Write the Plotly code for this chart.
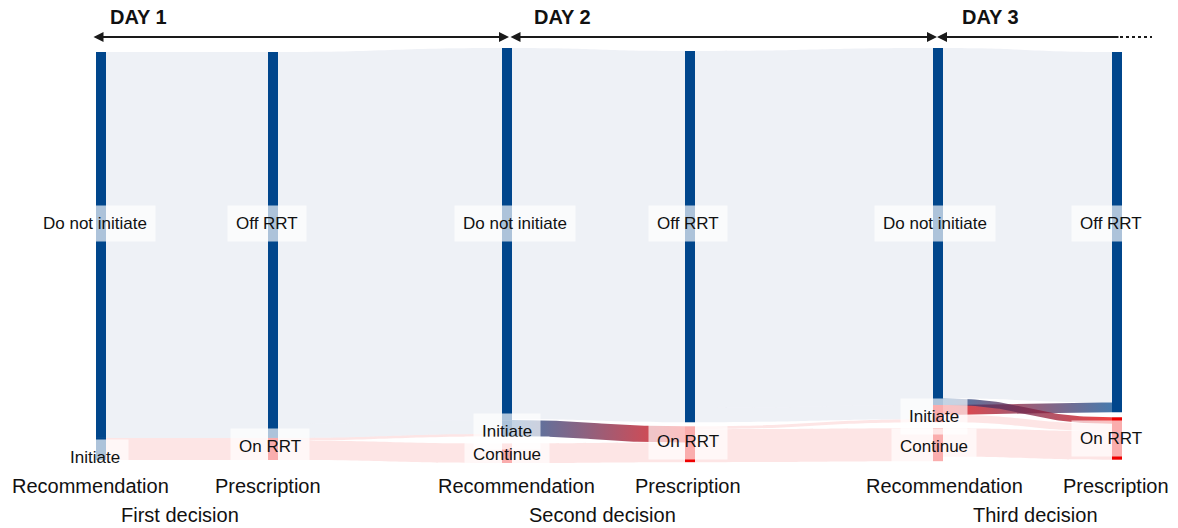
import plotly.graph_objects as go

FIG_W, FIG_H = 1178, 528

# ---- data: share of patients (%) in each state and between states ----
node_names = [
    "Do not initiate", "Initiate",                 # day 1 recommendation
    "Off RRT", "On RRT",                           # day 1 prescription
    "Do not initiate", "Initiate", "Continue",     # day 2 recommendation
    "Off RRT", "On RRT",                           # day 2 prescription
    "Do not initiate", "Initiate", "Continue",     # day 3 recommendation
    "Off RRT", "On RRT",                           # day 3 prescription
]
node_column = [0, 0, 1, 1, 2, 2, 2, 3, 3, 4, 4, 4, 5, 5]
node_group = ["off", "off", "off", "on", "off", "off", "on",
              "off", "on", "off", "on", "on", "off", "on"]

link_source = [0, 1, 2, 2, 3, 3, 4, 5, 6, 7, 7, 8, 8, 9, 9, 10, 10, 11]
link_target = [2, 3, 4, 5, 5, 6, 7, 8, 8, 9, 10, 10, 11, 12, 13, 12, 13, 13]
link_value = [94.6, 5.4, 91.2, 3.4, 0.6, 4.8, 91.0, 4.0, 4.8,
              87.5, 3.5, 0.7, 8.1, 85.9, 1.6, 2.4, 1.8, 7.0]
link_kind = ["off", "on", "off", "off", "on", "on", "off", "start", "on",
             "off", "off", "on", "on", "off", "start", "stop", "on", "on"]

stage_labels = ["Recommendation", "Prescription", "Recommendation",
                "Prescription", "Recommendation", "Prescription"]
decision_labels = ["First decision", "Second decision", "Third decision"]
day_labels = ["DAY 1", "DAY 2", "DAY 3"]

# ---- layout constants (pixels) ----
DOMAIN_TOP, DOMAIN_BOTTOM = 48, 463
DOM_H = DOMAIN_BOTTOM - DOMAIN_TOP
NODE_PAD = 3.5
NODE_THICK = 10
column_x = [101, 273, 507, 690, 938, 1117]
column_top = [52, 52, 48, 51, 48, 52]
gap_before = [0, 0, 0, 0, 0, 0, 7, 0, 4, 0, 0, 6, 0, 5]
label_xy = [(95, 223), (95, 457), (267, 223), (270, 446), (515, 223), (507, 431),
            (507, 454), (688, 223), (688, 441), (935, 223), (934, 416), (934, 446),
            (1111, 223), (1111, 438)]
stage_x = [91, 268, 516, 688, 944, 1116]
decision_x = [180, 602, 1035]
day_text_x = [108, 532, 960]
day_span = [(92, 509), (509, 937), (937, 1120)]
ARROW_Y = 37

BLUE = "rgb(0,70,140)"
RED = "rgb(238,0,0)"
link_fill = {"off": "rgba(0,40,120,0.065)", "on": "rgba(238,0,0,0.10)",
             "start": "rgba(0,0,0,0)", "stop": "rgba(0,0,0,0)"}
grad_blue = "rgba(0,70,140,0.72)"
grad_red = "rgba(238,0,0,0.75)"
FONT = "Arial, Liberation Sans, sans-serif"

# ---- node sizes and positions (same rules the sankey layout uses) ----
n_nodes = len(node_names)
n_cols = max(node_column) + 1
inflow = [0.0] * n_nodes
outflow = [0.0] * n_nodes
for s, t, v in zip(link_source, link_target, link_value):
    outflow[s] += v
    inflow[t] += v
node_value = [max(a, b) for a, b in zip(inflow, outflow)]

cols = [[i for i in range(n_nodes) if node_column[i] == c] for c in range(n_cols)]
ky = min((DOM_H - (len(c) - 1) * NODE_PAD) / sum(node_value[i] for i in c) for c in cols)

y0 = [0.0] * n_nodes
y1 = [0.0] * n_nodes
for c, members in enumerate(cols):
    y = column_top[c]
    for i in members:
        y += gap_before[i]
        y0[i] = y
        y1[i] = y + node_value[i] * ky
        y = y1[i]

node_x = [column_x[node_column[i]] / FIG_W for i in range(n_nodes)]
node_y = [((y0[i] + y1[i]) / 2 - DOMAIN_TOP) / DOM_H for i in range(n_nodes)]
node_color = [BLUE if g == "off" else RED for g in node_group]

fig = go.Figure()

fig.add_trace(go.Sankey(
    arrangement="fixed",
    domain=dict(x=[0, 1], y=[1 - DOMAIN_BOTTOM / FIG_H, 1 - DOMAIN_TOP / FIG_H]),
    node=dict(
        label=["" for _ in node_names],
        customdata=node_names,
        hovertemplate="%{customdata}<br>%{value:.1f}%<extra></extra>",
        x=node_x, y=node_y,
        pad=NODE_PAD, thickness=NODE_THICK,
        color=node_color, line=dict(width=0),
    ),
    link=dict(
        source=link_source, target=link_target, value=link_value,
        color=[link_fill[k] for k in link_kind],
        hovertemplate="%{value:.1f}%<extra></extra>",
    ),
))

# ---- transition links drawn as gradient bands along the sankey link paths ----
src_links = {i: [] for i in range(n_nodes)}
tgt_links = {i: [] for i in range(n_nodes)}
for k, (s, t) in enumerate(zip(link_source, link_target)):
    src_links[s].append(k)
    tgt_links[t].append(k)
link_w = [v * ky for v in link_value]
link_y0 = [0.0] * len(link_value)
link_y1 = [0.0] * len(link_value)
for i in range(n_nodes):
    yy = y0[i]
    for k in sorted(src_links[i], key=lambda k: y0[link_target[k]]):
        link_y0[k] = yy + link_w[k] / 2
        yy += link_w[k]
    yy = y0[i]
    for k in sorted(tgt_links[i], key=lambda k: y0[link_source[k]]):
        link_y1[k] = yy + link_w[k] / 2
        yy += link_w[k]


def bezier(xa, ya, xb, yb, n=48):
    xm = (xa + xb) / 2
    pts = []
    for j in range(n + 1):
        t = j / n
        u = 1 - t
        x = u**3 * xa + 3 * u * u * t * xm + 3 * u * t * t * xm + t**3 * xb
        y = u**3 * ya + 3 * u * u * t * ya + 3 * u * t * t * yb + t**3 * yb
        pts.append((x, y))
    return pts


for k in [15, 7, 14]:
    s, t = link_source[k], link_target[k]
    xa = column_x[node_column[s]] + NODE_THICK / 2
    xb = column_x[node_column[t]] - NODE_THICK / 2
    half = link_w[k] / 2
    top = bezier(xa, link_y0[k] - half, xb, link_y1[k] - half)
    bot = bezier(xa, link_y0[k] + half, xb, link_y1[k] + half)[::-1]
    pts = top + bot + [top[0]]
    c0, c1 = (grad_blue, grad_red) if link_kind[k] == "start" else (grad_red, grad_blue)
    fig.add_trace(go.Scatter(
        x=[p[0] for p in pts], y=[p[1] for p in pts],
        mode="lines", line=dict(width=0), fill="toself",
        fillgradient=dict(type="horizontal", colorscale=[[0, c0], [1, c1]]),
        hoverinfo="skip", showlegend=False,
    ))

annotations = []
# node labels
for name, (lx, ly) in zip(node_names, label_xy):
    annotations.append(dict(
        text=name, x=lx / FIG_W, y=1 - ly / FIG_H, xref="paper", yref="paper",
        xanchor="center", yanchor="middle", showarrow=False,
        font=dict(family=FONT, size=17, color="#111111"),
        bgcolor="rgba(255,255,255,0.68)", borderpad=8, borderwidth=1,
        bordercolor="rgba(255,255,255,0)",
    ))
# stage and decision labels
for name, sx in zip(stage_labels, stage_x):
    annotations.append(dict(
        text=name, x=sx / FIG_W, y=1 - 486 / FIG_H, xref="paper", yref="paper",
        xanchor="center", yanchor="middle", showarrow=False,
        font=dict(family=FONT, size=20, color="#111111"),
    ))
for name, dx in zip(decision_labels, decision_x):
    annotations.append(dict(
        text=name, x=dx / FIG_W, y=1 - 515 / FIG_H, xref="paper", yref="paper",
        xanchor="center", yanchor="middle", showarrow=False,
        font=dict(family=FONT, size=20, color="#111111"),
    ))
# day timeline
for i, (name, tx) in enumerate(zip(day_labels, day_text_x)):
    annotations.append(dict(
        text="<b>" + name + "</b>", x=tx / FIG_W, y=1 - 17 / FIG_H,
        xref="paper", yref="paper", xanchor="left", yanchor="middle",
        showarrow=False, font=dict(family=FONT, size=20, color="#111111"),
    ))
    a, b = day_span[i]
    both = i < len(day_labels) - 1
    annotations.append(dict(
        text="", x=b / FIG_W if both else a / FIG_W, y=1 - ARROW_Y / FIG_H,
        xref="paper", yref="paper",
        ax=(a - b) if both else (b - a), ay=0,
        showarrow=True, arrowside="end+start" if both else "end",
        arrowhead=2, startarrowhead=2, arrowsize=1, startarrowsize=1,
        arrowwidth=2, arrowcolor="#1a1a1a", standoff=0, startstandoff=0,
    ))

shapes = [dict(
    type="line", xref="paper", yref="paper",
    x0=day_span[-1][1] / FIG_W, x1=1152 / FIG_W,
    y0=1 - ARROW_Y / FIG_H, y1=1 - ARROW_Y / FIG_H,
    line=dict(color="#1a1a1a", width=2, dash="dot"),
)]

fig.update_layout(
    width=FIG_W, height=FIG_H,
    margin=dict(l=0, r=0, t=0, b=0),
    paper_bgcolor="white", plot_bgcolor="rgba(0,0,0,0)",
    xaxis=dict(range=[0, FIG_W], visible=False, fixedrange=True, domain=[0, 1]),
    yaxis=dict(range=[FIG_H, 0], visible=False, fixedrange=True, domain=[0, 1]),
    annotations=annotations, shapes=shapes,
    font=dict(family=FONT),
    showlegend=False,
)

fig.write_html("out.html")
